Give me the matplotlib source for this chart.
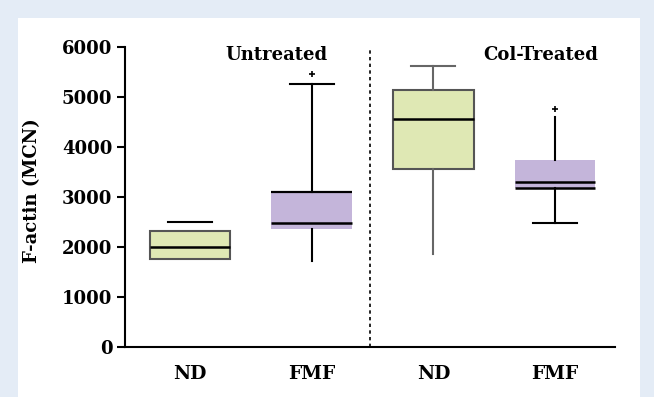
import matplotlib.pyplot as plt
from matplotlib.patches import Rectangle

# values (F-actin, MCN)
groups = ['ND', 'FMF', 'ND', 'FMF']
panels = ['Untreated', 'Col-Treated']
whislo = [1750, 1720, 1850, 2480]
q1 = [1750, 2350, 3550, 3180]
med = [2000, 2480, 4550, 3300]
q3 = [2320, 3100, 5130, 3730]
whishi = [2500, 5250, 5620, 4600]
fliers = [[], [5450], [], [4750]]
colors = ['#dfe8b4', '#c4b5da', '#dfe8b4', '#c4b5da']
yticks = [0, 1000, 2000, 3000, 4000, 5000, 6000]

plt.rcParams['font.family'] = ['DejaVu Serif']
plt.rcParams['font.weight'] = 'bold'

fig = plt.figure(figsize=(6.54, 3.97), dpi=100, facecolor='#e4ecf6')
fig.add_artist(Rectangle((18 / 654, 0), 622 / 654, 379 / 397,
                         transform=fig.transFigure, facecolor='white',
                         edgecolor='none', zorder=-10))
ax = fig.add_axes([0.191, 0.126, 0.749, 0.756])
ax.set_facecolor('none')

stats = []
for i in range(len(groups)):
    stats.append(dict(whislo=whislo[i], q1=q1[i], med=med[i], q3=q3[i],
                      whishi=whishi[i], fliers=fliers[i]))

pos = [1, 2, 3, 4]
bp = ax.bxp(stats, positions=pos, widths=0.66, patch_artist=True,
            showfliers=True,
            flierprops=dict(marker='+', markersize=5, markeredgecolor='black',
                            markeredgewidth=1.2),
            medianprops=dict(color='black', linewidth=1.8),
            whiskerprops=dict(color='black', linewidth=1.5),
            capprops=dict(color='black', linewidth=1.5),
            capwidths=0.36)

for i, box in enumerate(bp['boxes']):
    box.set_facecolor(colors[i])
    if colors[i] == '#dfe8b4':
        box.set_edgecolor('#555555')
        box.set_linewidth(1.5)
    else:
        box.set_edgecolor('none')

# treated ND whiskers are grey in the reference
for w in bp['whiskers'][4:6]:
    w.set_color('#666666')
bp['caps'][5].set_color('#666666')
# caps / whiskers that are not visible in the reference
for k in [0, 2, 4, 7]:
    bp['caps'][k].set_visible(False)
bp['whiskers'][1].set_visible(False)

# dark edges on the purple boxes
ax.hlines(q3[1], 2 - 0.33, 2 + 0.33, color='black', linewidth=1.6, zorder=3)
ax.hlines(q1[3], 4 - 0.33, 4 + 0.33, color='black', linewidth=1.8, zorder=3)

ax.axvline(2.48, color='black', linestyle=(0, (2, 2)), linewidth=1.2)
ax.text(1.71, 5840, panels[0], ha='center', va='center', fontsize=13)
ax.text(3.88, 5840, panels[1], ha='center', va='center', fontsize=13)

ax.set_xlim(0.466, 4.49)
ax.set_ylim(0, 6000)
ax.set_yticks(yticks)
ax.set_yticklabels([str(t) for t in yticks], fontsize=13)
ax.set_xticks(pos)
ax.set_xticklabels(groups, fontsize=13.5)
ax.tick_params(axis='x', length=0, pad=13)
ax.tick_params(axis='y', length=6, width=1.5, pad=3)
ax.set_ylabel('F-actin (MCN)', fontsize=13, fontweight='bold')
ax.yaxis.set_label_coords(-0.171, 0.52)

for s in ['top', 'right']:
    ax.spines[s].set_visible(False)
ax.spines['left'].set_linewidth(1.5)
ax.spines['bottom'].set_linewidth(1.5)

fig.savefig('out.png', dpi=100, facecolor=fig.get_facecolor())
